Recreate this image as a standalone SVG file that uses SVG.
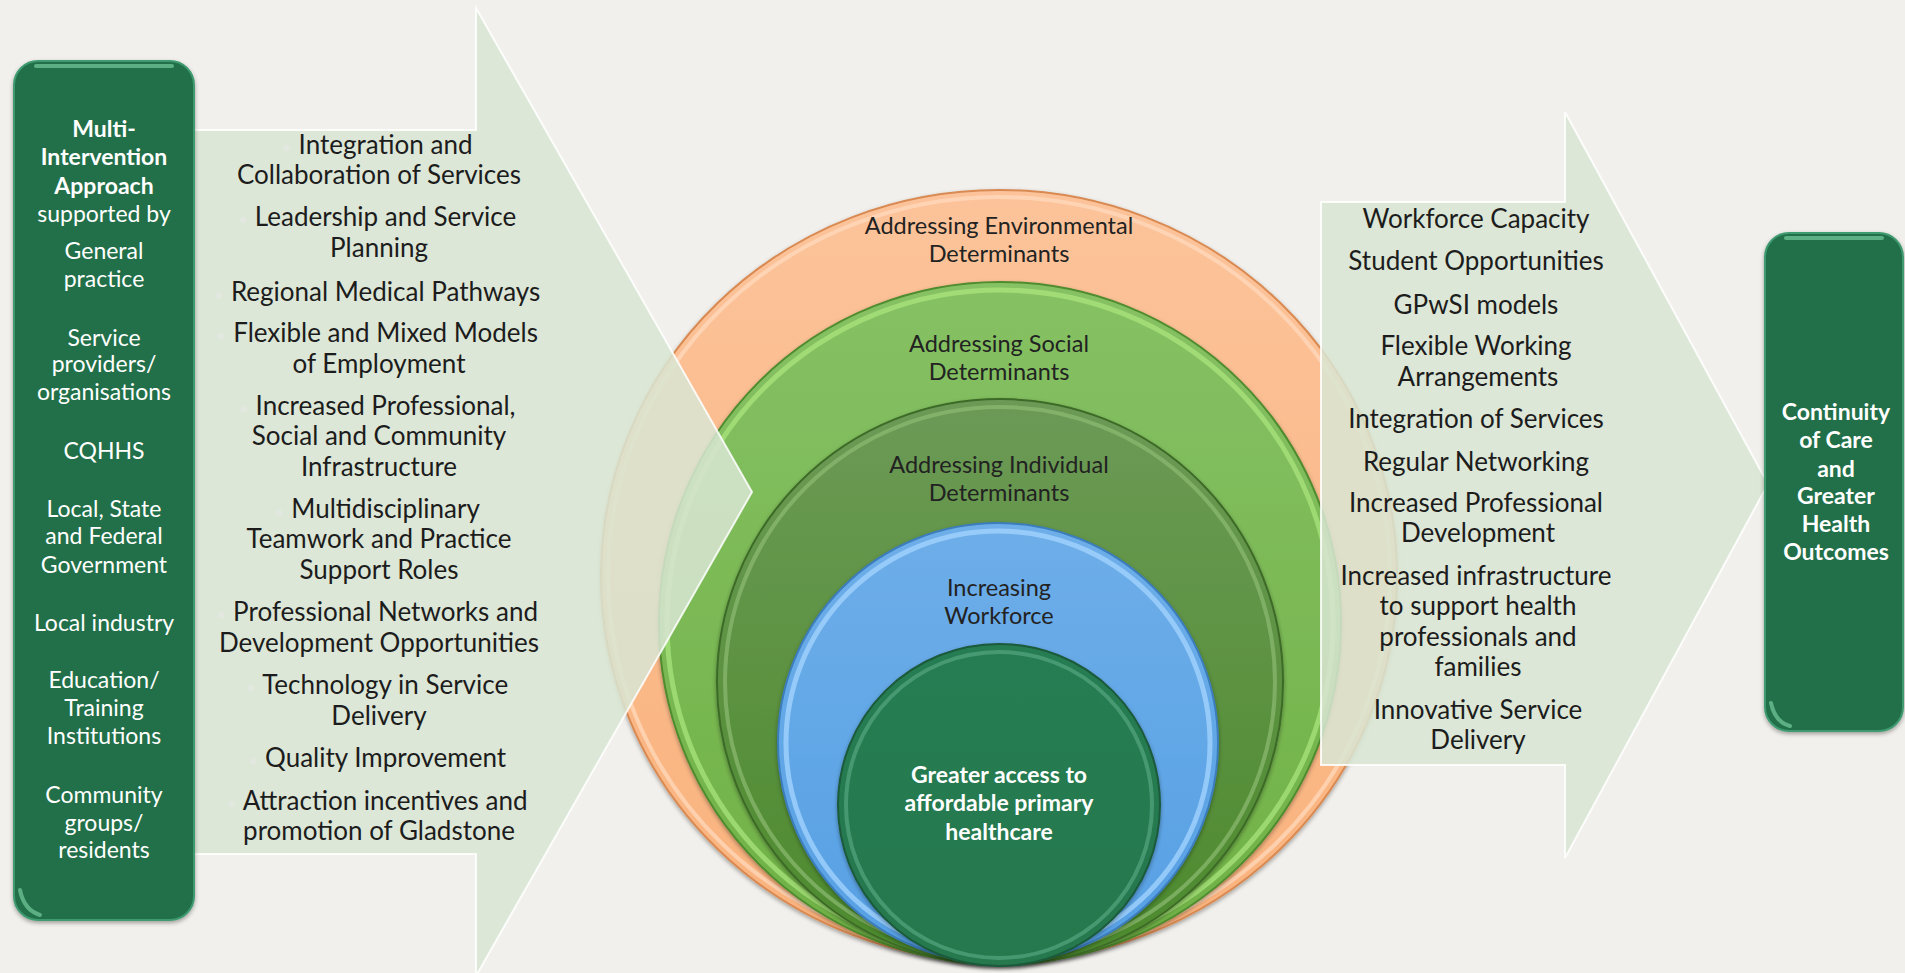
<svg xmlns="http://www.w3.org/2000/svg" width="1905" height="973" viewBox="0 0 1905 973">
<style>
.bg{fill:#f2f0ec}
.list{font-family:Lato,"Open Sans",sans-serif;font-size:26px;fill:#1c1c1c;text-anchor:middle}
.blt{fill:#e2e8df;font-size:18px}
.lbl{font-family:Lato,"Open Sans",sans-serif;font-size:23.5px;fill:#222;text-anchor:middle}
.wb{font-family:Lato,"Open Sans",sans-serif;font-size:23px;font-weight:bold;fill:#ffffff;text-anchor:middle}
.wr{font-family:Lato,"Open Sans",sans-serif;font-size:23px;fill:#ffffff;text-anchor:middle}
.arrow{fill:#d9e5d3;fill-opacity:0.86;stroke:#ffffff;stroke-width:2;stroke-opacity:0.85}
.box{fill:#22704a;stroke:#3f9a70;stroke-width:2}
.boxhl{fill:none;stroke:#6cbf92;stroke-width:4;stroke-linecap:round;opacity:0.8}
</style>
<defs>
<linearGradient id="gOr" x1="0" y1="0" x2="0" y2="1"><stop offset="0" stop-color="#fcc39a"/><stop offset="1" stop-color="#f9b27c"/></linearGradient>
<linearGradient id="gSo" x1="0" y1="0" x2="0" y2="1"><stop offset="0" stop-color="#86c164"/><stop offset="1" stop-color="#6fb145"/></linearGradient>
<linearGradient id="gIn" x1="0" y1="0" x2="0" y2="1"><stop offset="0" stop-color="#6c9a56"/><stop offset="1" stop-color="#4c8a2c"/></linearGradient>
<linearGradient id="gBl" x1="0" y1="0" x2="0" y2="1"><stop offset="0" stop-color="#6eaee9"/><stop offset="1" stop-color="#56a0e4"/></linearGradient>
<linearGradient id="gCe" x1="0" y1="0" x2="0" y2="1"><stop offset="0" stop-color="#287c52"/><stop offset="1" stop-color="#25784e"/></linearGradient>
<filter id="sh" x="-10%" y="-10%" width="120%" height="120%"><feDropShadow dx="0" dy="2" stdDeviation="2" flood-color="#000" flood-opacity="0.35"/></filter>
</defs>
<rect class="bg" x="0" y="0" width="1905" height="973"/>

<g id="circles">
<g id="c-environmental">
<ellipse cx="999" cy="576" rx="398" ry="386" fill="url(#gOr)" stroke="#d98a52" stroke-width="2" filter="url(#sh)"/>
<ellipse cx="999" cy="576" rx="391" ry="379" fill="none" stroke="#ffdcc0" stroke-width="4" opacity="0.7"/>
<text class="lbl" x="999" y="234">Addressing Environmental</text>
<text class="lbl" x="999" y="262">Determinants</text>
</g>
<g id="c-social">
<circle cx="1000" cy="623" r="341" fill="url(#gSo)" stroke="#4f8c2f" stroke-width="2" filter="url(#sh)"/>
<circle cx="1000" cy="623" r="333" fill="none" stroke="#a9e47c" stroke-width="5" opacity="0.75"/>
<text class="lbl" x="999" y="352">Addressing Social</text>
<text class="lbl" x="999" y="380">Determinants</text>
</g>
<g id="c-individual">
<circle cx="1000" cy="682" r="283" fill="url(#gIn)" stroke="#3d6b28" stroke-width="2" filter="url(#sh)"/>
<circle cx="1000" cy="682" r="275" fill="none" stroke="#8dba72" stroke-width="4" opacity="0.7"/>
<text class="lbl" x="999" y="473">Addressing Individual</text>
<text class="lbl" x="999" y="501">Determinants</text>
</g>
<g id="c-workforce">
<circle cx="998" cy="743" r="220" fill="url(#gBl)" stroke="#3b7dbd" stroke-width="2" filter="url(#sh)"/>
<circle cx="998" cy="743" r="212" fill="none" stroke="#a6d6ff" stroke-width="5" opacity="0.75"/>
<text class="lbl" x="999" y="596">Increasing</text>
<text class="lbl" x="999" y="624">Workforce</text>
</g>
<g id="c-access">
<circle cx="999" cy="805" r="161" fill="url(#gCe)" stroke="#1a5a3a" stroke-width="2" filter="url(#sh)"/>
<circle cx="999" cy="805" r="153" fill="none" stroke="#52a37c" stroke-width="4" opacity="0.75"/>
<text class="wb" x="999" y="783">Greater access to</text>
<text class="wb" x="999" y="811">affordable primary</text>
<text class="wb" x="999" y="840">healthcare</text>
</g>
</g>

<g id="left-arrow">
<path class="arrow" d="M190,130 L476,130 L476,8 L752,492 L476,976 L476,854 L190,854 Z"/>
<text class="list" x="377" y="154"><tspan class="blt">•</tspan> Integration and</text>
<text class="list" x="379" y="184">Collaboration of Services</text>
<text class="list" x="377" y="226"><tspan class="blt">•</tspan> Leadership and Service</text>
<text class="list" x="379" y="257">Planning</text>
<text class="list" x="377" y="301"><tspan class="blt">•</tspan> Regional Medical Pathways</text>
<text class="list" x="377" y="342"><tspan class="blt">•</tspan> Flexible and Mixed Models</text>
<text class="list" x="379" y="373">of Employment</text>
<text class="list" x="377" y="415"><tspan class="blt">•</tspan> Increased Professional,</text>
<text class="list" x="379" y="445">Social and Community</text>
<text class="list" x="379" y="476">Infrastructure</text>
<text class="list" x="377" y="518"><tspan class="blt">•</tspan> Multidisciplinary</text>
<text class="list" x="379" y="548">Teamwork and Practice</text>
<text class="list" x="379" y="579">Support Roles</text>
<text class="list" x="377" y="621"><tspan class="blt">•</tspan> Professional Networks and</text>
<text class="list" x="379" y="652">Development Opportunities</text>
<text class="list" x="377" y="694"><tspan class="blt">•</tspan> Technology in Service</text>
<text class="list" x="379" y="725">Delivery</text>
<text class="list" x="377" y="767"><tspan class="blt">•</tspan> Quality Improvement</text>
<text class="list" x="377" y="810"><tspan class="blt">•</tspan> Attraction incentives and</text>
<text class="list" x="379" y="840">promotion of Gladstone</text>
</g>

<g id="right-arrow">
<path class="arrow" d="M1321,202 L1565,202 L1565,112 L1768,484 L1565,858 L1565,765 L1321,765 Z"/>
<text class="list" x="1476" y="228">Workforce Capacity</text>
<text class="list" x="1476" y="270">Student Opportunities</text>
<text class="list" x="1476" y="314">GPwSI models</text>
<text class="list" x="1476" y="355">Flexible Working</text>
<text class="list" x="1478" y="386">Arrangements</text>
<text class="list" x="1476" y="428">Integration of Services</text>
<text class="list" x="1476" y="471">Regular Networking</text>
<text class="list" x="1476" y="512">Increased Professional</text>
<text class="list" x="1478" y="542">Development</text>
<text class="list" x="1476" y="585">Increased infrastructure</text>
<text class="list" x="1478" y="615">to support health</text>
<text class="list" x="1478" y="646">professionals and</text>
<text class="list" x="1478" y="676">families</text>
<text class="list" x="1478" y="719">Innovative Service</text>
<text class="list" x="1478" y="749">Delivery</text>
</g>

<g id="left-box">
<rect class="box" x="14" y="61" width="180" height="859" rx="24" ry="24" filter="url(#sh)"/>
<path class="boxhl" d="M36,66 L172,66"/>
<path class="boxhl" d="M20,890 Q24,910 40,915"/>
<text class="wb" x="104" y="137">Multi-</text>
<text class="wb" x="104" y="165">Intervention</text>
<text class="wb" x="104" y="194">Approach</text>
<text class="wr" x="104" y="222">supported by</text>
<text class="wr" x="104" y="259">General</text>
<text class="wr" x="104" y="287">practice</text>
<text class="wr" x="104" y="346">Service</text>
<text class="wr" x="104" y="372">providers/</text>
<text class="wr" x="104" y="400">organisations</text>
<text class="wr" x="104" y="459">CQHHS</text>
<text class="wr" x="104" y="517">Local, State</text>
<text class="wr" x="104" y="544">and Federal</text>
<text class="wr" x="104" y="573">Government</text>
<text class="wr" x="104" y="631">Local industry</text>
<text class="wr" x="104" y="688">Education/</text>
<text class="wr" x="104" y="716">Training</text>
<text class="wr" x="104" y="744">Institutions</text>
<text class="wr" x="104" y="803">Community</text>
<text class="wr" x="104" y="831">groups/</text>
<text class="wr" x="104" y="858">residents</text>
</g>

<g id="right-box">
<rect class="box" x="1765" y="233" width="138" height="498" rx="24" ry="24" filter="url(#sh)"/>
<path class="boxhl" d="M1786,238 L1882,238"/>
<path class="boxhl" d="M1771,703 Q1775,722 1790,726"/>
<text class="wb" x="1836" y="420">Continuity</text>
<text class="wb" x="1836" y="448">of Care</text>
<text class="wb" x="1836" y="477">and</text>
<text class="wb" x="1836" y="504">Greater</text>
<text class="wb" x="1836" y="532">Health</text>
<text class="wb" x="1836" y="560">Outcomes</text>
</g>
</svg>
